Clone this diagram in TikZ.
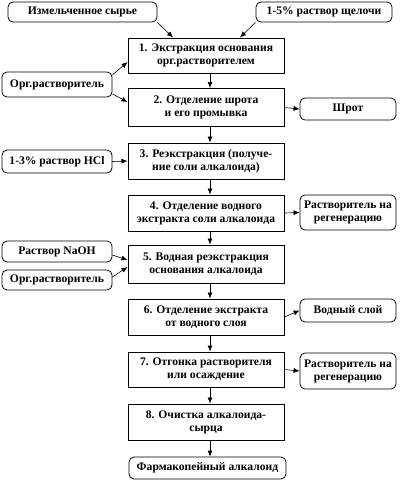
\documentclass[tikz,border=0pt]{standalone}
\usepackage{fontspec}
\setmainfont{Liberation Serif}
\usetikzlibrary{arrows.meta, positioning}
\tikzset{
  stepbox/.style={draw, line width=1pt, minimum width=156pt, minimum height=36pt, align=center, inner sep=1pt},
  sidebox/.style={draw, line width=0.8pt, rounded corners=5pt, align=center, inner sep=1pt},
  flow/.style={->, line width=0.6pt},
}
\begin{document}
\begin{tikzpicture}[x=1pt, y=-1pt, >={Latex[length=6pt,width=5pt]}, font=\bfseries\fontsize{11.6}{13}\selectfont]
        \useasboundingbox (0,0) rectangle (405,480);
        % main chain
        \node[stepbox, minimum height=35pt] (s1) at (206,55.5) {1. Экстракция основания\\орг.растворителем};
        \node[stepbox, minimum height=38pt] (s2) at (206,107.5) {2. Отделение шрота\\и его промывка};
        \node[stepbox] (s3) at (206,161) {3. Реэкстракция (получе-\\ние соли алкалоида)};
        \node[stepbox] (s4) at (206,213) {4. Отделение водного\\экстракта соли алкалоида};
        \node[stepbox, minimum height=38pt] (s5) at (206,264) {5. Водная реэкстракция\\основания алкалоида};
        \node[stepbox] (s6) at (206,317) {6. Отделение экстракта\\от водного слоя};
        \node[stepbox, minimum height=35pt] (s7) at (206,369.5) {7. Отгонка растворителя\\или осаждение};
        \node[stepbox] (s8) at (206,422) {8. Очистка алкалоида-\\сырца};
        \node[sidebox, minimum width=157pt, minimum height=22pt] (farm) at (207.5,468) {Фармакопейный алкалоид};
        % inputs
        \node[sidebox, minimum width=149pt, minimum height=20pt] (syr) at (82.5,12) {Измельченное сырье};
        \node[sidebox, minimum width=136pt, minimum height=20pt] (shch) at (324,12) {1-5\% раствор щелочи};
        \node[sidebox, minimum width=110pt, minimum height=25pt] (org1) at (57,84.5) {Орг.растворитель};
        \node[sidebox, minimum width=110pt, minimum height=23pt] (hcl) at (57,161.5) {1-3\% раствор HCl};
        \node[sidebox, minimum width=110pt, minimum height=21pt] (naoh) at (57,251.5) {Раствор NaOH};
        \node[sidebox, minimum width=110pt, minimum height=20pt] (org2) at (57,280) {Орг.растворитель};
        % outputs
        \node[sidebox, minimum width=96pt, minimum height=22pt] (shrot) at (348,109) {Шрот};
        \node[sidebox, minimum width=96pt, minimum height=35pt] (reg1) at (348,212.5) {Растворитель на\\регенерацию};
        \node[sidebox, minimum width=96pt, minimum height=23pt] (vod) at (348,310.5) {Водный слой};
        \node[sidebox, minimum width=96pt, minimum height=36pt] (reg2) at (348,371) {Растворитель на\\регенерацию};

        \foreach \a/\b in {s1/s2, s2/s3, s3/s4, s4/s5, s5/s6, s6/s7, s7/s8, s8/farm}
            \draw[flow] ([xshift=4pt]\a.south) -- ([xshift=4pt]\a.south |- \b.north);
        \draw[flow] (syr.south east) -- ([xshift=-33pt]s1.north);
        \draw[flow] (shch.south west) -- ([xshift=34pt]s1.north);
        \draw[flow] ([yshift=9.5pt]org1.east) -- ([yshift=-6.5pt]s1.west);
        \draw[flow] ([yshift=-9.5pt]org1.east) -- ([yshift=5.5pt]s2.west);
        \draw[flow] (hcl.east) -- (s3.west);
        \draw[flow] ([yshift=-3.5pt]naoh.east) -- ([yshift=4pt]s5.west);
        \draw[flow] ([yshift=3pt]org2.east) -- ([yshift=-3pt]s5.west);
        \draw[flow] (s2.east) -- (shrot.west);
        \draw[flow] (s4.east) -- (reg1.west);
        \draw[flow] (s6.east) -- (vod.west);
        \draw[flow] (s7.east) -- (reg2.west);
\end{tikzpicture}
\end{document}
